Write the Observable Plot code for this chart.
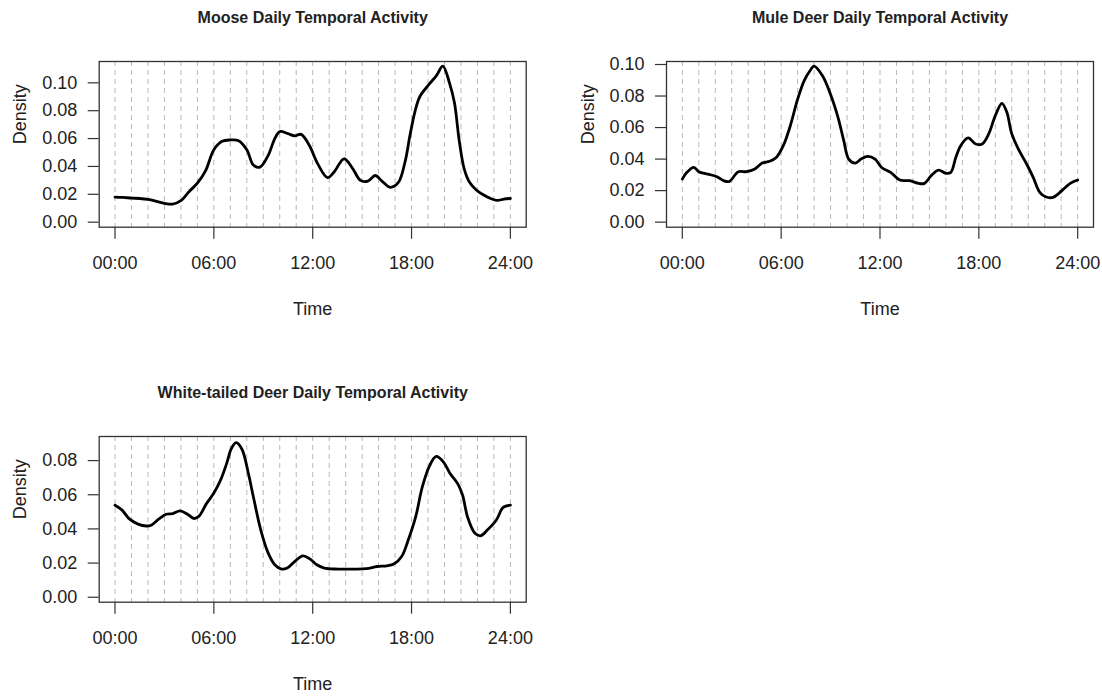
<!DOCTYPE html>
<html><head><meta charset="utf-8">
<script src="https://cdn.jsdelivr.net/npm/d3@7"></script>
<script src="https://cdn.jsdelivr.net/npm/@observablehq/plot@0.6"></script>
<style>
body{margin:0;background:#fff;}
#root{position:relative;width:1102px;height:696px;overflow:hidden;background:#fff;}
#root svg{position:absolute;}
</style></head><body><div id="root"></div>
<script>
// ---- data ----
const hourLines = d3.range(0, 25);
const xTicks = [0, 6, 12, 18, 24];
const xTickLabels = ["00:00", "06:00", "12:00", "18:00", "24:00"];

const mooseTitle = "Moose Daily Temporal Activity";
const mooseTime = [0,0.5,1,1.5,2,2.5,3,3.5,4,4.5,5,5.5,6,6.5,7,7.5,8,8.4,8.8,9.3,9.7,10,10.5,10.9,11.3,11.8,12.3,12.9,13.3,13.9,14.4,14.9,15.35,15.8,16.2,16.7,17.2,17.6,17.9,18.2,18.5,19,19.5,19.9,20.3,20.6,20.9,21.2,21.5,21.9,22.3,22.8,23.2,23.6,24];
const mooseDensity = [0.018,0.0178,0.0173,0.017,0.0163,0.015,0.0135,0.013,0.0155,0.022,0.028,0.037,0.052,0.058,0.059,0.0585,0.052,0.041,0.0395,0.048,0.060,0.065,0.0635,0.062,0.063,0.055,0.042,0.032,0.036,0.0455,0.039,0.030,0.0295,0.0335,0.0295,0.025,0.0285,0.043,0.062,0.079,0.090,0.098,0.105,0.112,0.100,0.086,0.058,0.038,0.029,0.0235,0.020,0.017,0.0156,0.0165,0.017];
const mooseTicks = [0, 0.02, 0.04, 0.06, 0.08, 0.10];

const muleTitle = "Mule Deer Daily Temporal Activity";
const muleTime = [0,0.28,0.7,1,1.55,2.1,2.5,2.85,3.4,3.9,4.4,4.85,5.3,5.7,6.15,6.55,7,7.4,7.75,8,8.5,9,9.45,9.8,10.1,10.5,10.85,11.25,11.7,12.1,12.65,13.2,13.8,14.35,14.7,15.1,15.55,16,16.3,16.6,16.9,17.35,17.8,18.2,18.6,19,19.4,19.7,20,20.45,20.9,21.3,21.7,22.05,22.5,22.8,23.25,23.55,24];
const muleDensity = [0.0273,0.0316,0.0347,0.032,0.0305,0.0288,0.0263,0.0258,0.032,0.032,0.0337,0.0375,0.0386,0.041,0.049,0.061,0.078,0.0898,0.096,0.099,0.093,0.081,0.0665,0.0517,0.040,0.0375,0.040,0.0417,0.040,0.0347,0.0316,0.0267,0.0263,0.0246,0.0246,0.0294,0.033,0.031,0.0316,0.041,0.0485,0.0534,0.0496,0.0496,0.056,0.0676,0.0754,0.0697,0.056,0.0453,0.0369,0.0284,0.0189,0.0161,0.0157,0.0178,0.022,0.0246,0.0267];
const muleTicks = [0, 0.02, 0.04, 0.06, 0.08, 0.10];

const wtTitle = "White-tailed Deer Daily Temporal Activity";
const wtTime = [0,0.43,0.85,1.4,1.9,2.2,2.65,3.1,3.5,3.95,4.4,4.8,5.1,5.55,6,6.4,6.8,7.05,7.35,7.7,8.1,8.4,8.85,9.3,9.7,10.1,10.45,10.9,11.4,11.85,12.25,12.7,13.55,14.4,15.25,15.9,16.5,16.95,17.4,17.8,18.25,18.65,19.1,19.5,19.95,20.35,20.8,21.1,21.4,21.85,22.2,22.6,23.15,23.55,24];
const wtDensity = [0.0539,0.051,0.046,0.0428,0.0417,0.0422,0.0457,0.0486,0.049,0.0506,0.0486,0.0461,0.0475,0.0548,0.061,0.0684,0.079,0.0868,0.0905,0.0868,0.0723,0.0587,0.0393,0.0258,0.019,0.0165,0.0171,0.0209,0.0242,0.0223,0.019,0.0171,0.0165,0.0165,0.0167,0.018,0.0184,0.0196,0.0238,0.0335,0.047,0.0645,0.0771,0.0824,0.079,0.0723,0.0665,0.0597,0.047,0.0374,0.036,0.0393,0.0452,0.0525,0.0539];
const wtTicks = [0, 0.02, 0.04, 0.06, 0.08];

// ---- drawing ----
const FONT = "'Liberation Sans', Arial, Helvetica, sans-serif";
function panel(o) {
  const data = o.time.map((t, i) => ({t, d: o.density[i]}));
  const p = Plot.plot({
    width: o.width, height: o.height,
    marginLeft: o.mLeft, marginRight: o.mRight, marginTop: o.mTop, marginBottom: o.mBottom,
    style: {background: "transparent", fontFamily: FONT, fontSize: "18px", color: "#222", overflow: "visible"},
    x: {domain: [-0.96, 24.96]},
    y: {domain: o.yDomain},
    marks: [
      Plot.ruleX(hourLines, {x: d => d, stroke: "#b8b8b8", strokeWidth: 1, strokeDasharray: "5,4"}),
      Plot.axisX({ticks: xTicks, tickFormat: d => xTickLabels[xTicks.indexOf(d)], tickSize: 12, tickPadding: 17, fontSize: 18, label: null, stroke: "#333", strokeWidth: 1.2, fill: "#222"}),
      Plot.axisY({ticks: o.yTicks, tickFormat: d3.format(".2f"), tickSize: 11, tickPadding: 11, fontSize: 18, label: null, stroke: "#333", strokeWidth: 1.2, fill: "#222"}),
      Plot.line(data, {x: "t", y: "d", stroke: "#000", strokeWidth: 2.8, curve: "catmull-rom", strokeLinejoin: "round"}),
      Plot.frame({stroke: "#333", strokeWidth: 1.3}),
      Plot.text([o.title], {text: d => d, frameAnchor: "top", lineAnchor: "middle", dy: 17 - o.mTop, fontSize: 16, fontWeight: "bold", fill: "#222"}),
      Plot.text(["Time"], {text: d => d, frameAnchor: "bottom", lineAnchor: "middle", dy: 82, fontSize: 18, fill: "#222"}),
      Plot.text(["Density"], {text: d => d, frameAnchor: "left", lineAnchor: "middle", dx: -78.5, rotate: -90, fontSize: 18, fill: "#222"})
    ]
  });
  p.style.left = o.left + "px";
  p.style.top = o.top + "px";
  document.getElementById("root").appendChild(p);
}

panel({title: mooseTitle, time: mooseTime, density: mooseDensity, yTicks: mooseTicks,
  yDomain: [-0.0036, 0.1153], left: 0, top: 0, width: 551, height: 340,
  mLeft: 98.7, mRight: 25.3, mTop: 61, mBottom: 113.3});
panel({title: muleTitle, time: muleTime, density: muleDensity, yTicks: muleTicks,
  yDomain: [-0.0032, 0.1019], left: 551, top: 0, width: 551, height: 340,
  mLeft: 115, mRight: 9, mTop: 61, mBottom: 113.3});
panel({title: wtTitle, time: wtTime, density: wtDensity, yTicks: wtTicks,
  yDomain: [-0.0029, 0.0941], left: 0, top: 375, width: 551, height: 321,
  mLeft: 98.7, mRight: 25.3, mTop: 61, mBottom: 94.3});
</script></body></html>
